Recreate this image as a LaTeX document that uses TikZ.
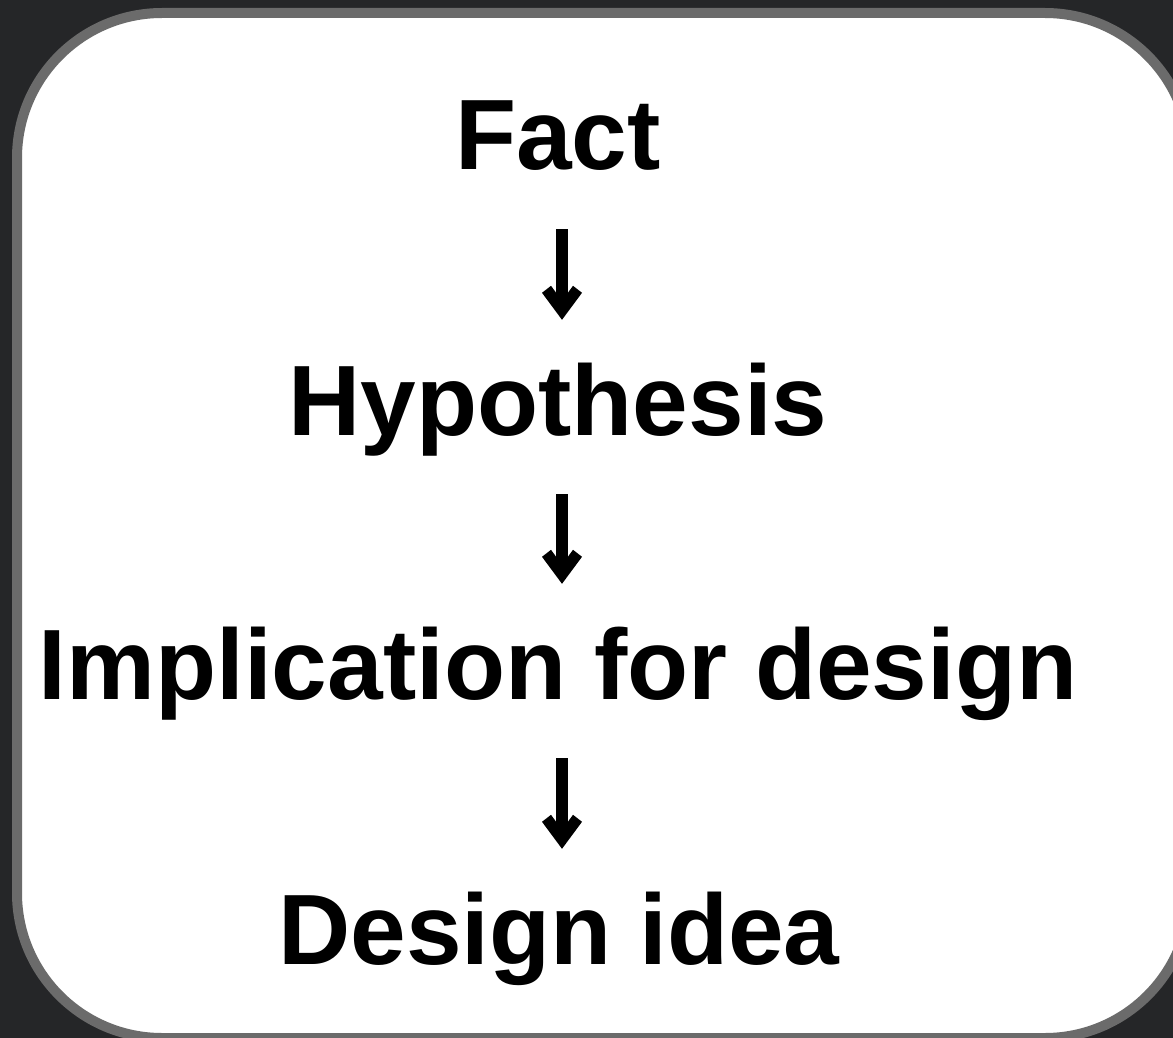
\documentclass[tikz,border=0pt]{standalone}
\usepackage{fontspec}
\setmainfont{Liberation Sans}
\usetikzlibrary{calc}
\definecolor{bgdark}{HTML}{252628}
\definecolor{framegray}{HTML}{6B6B6B}
\begin{document}
\begin{tikzpicture}[x=1pt,y=-1pt,
  stepnode/.style={inner sep=0pt, font=\fontsize{100}{110}\selectfont\bfseries, text height=72pt, text depth=21pt, anchor=base},
  flowshaft/.style={draw=black, line width=11.5pt, shorten <=38pt, shorten >=60pt},
  flowhead/.style={fill=black}]
  \useasboundingbox (0,0) rectangle (1173,1038);
  \begin{scope}
    \clip (0,0) rectangle (1173,1038);
    \fill[bgdark] (0,0) rectangle (1173,1038);
    \draw[framegray, line width=10pt, fill=white, rounded corners=145pt] (17,13) rectangle (1190,1038);
  \end{scope}
  \node[stepnode] (fact) at (558,170) {Fact};
  \node[stepnode] (hyp) at (558,435) {Hypothesis};
  \node[stepnode] (impl) at (558,699) {Implication for design};
  \node[stepnode] (idea) at (559,964) {Design idea};
  \foreach \a/\b in {fact/hyp, hyp/impl, impl/idea}{
    \draw[flowshaft] (\a.south -| 562,0) -- (\b.north -| 562,0);
    \coordinate (tip-\b) at ($(\b.north -| 562,0)+(0,-43)$);
    \fill[flowhead] (tip-\b) -- ++(-20,-27) -- ++(9,-7) -- ++(11,15) -- ++(11,-15) -- ++(9,7) -- cycle;
  }
\end{tikzpicture}
\end{document}
